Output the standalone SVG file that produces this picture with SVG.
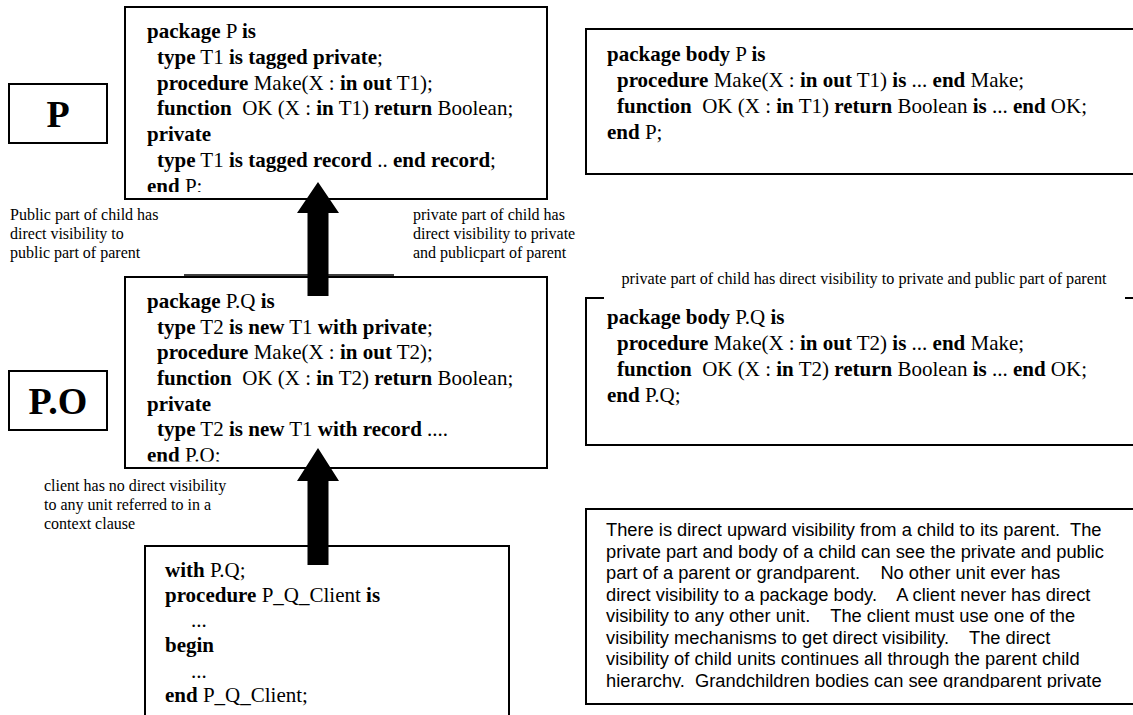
<svg xmlns="http://www.w3.org/2000/svg" width="1133" height="715" viewBox="0 0 1133 715">
<style>
.box{fill:#fff;stroke:#000;stroke-width:2}
.code{font-family:"Liberation Serif","Times New Roman",serif;font-size:21px;fill:#000}
.b{font-weight:bold}
.lbl{font-family:"Liberation Serif","Times New Roman",serif;font-size:16px;fill:#000}
.big{font-family:"Liberation Serif","Times New Roman",serif;font-size:38px;font-weight:bold;fill:#000}
.info{font-family:"Liberation Sans",Arial,sans-serif;font-size:18.3px;fill:#000}
.arrow{fill:#000}
</style>
<defs>
<clipPath id="cP"><rect x="125" y="8" width="422" height="184"/></clipPath>
<clipPath id="cPQ"><rect x="125" y="278" width="422" height="183.5"/></clipPath>
<clipPath id="cInfo"><rect x="586" y="510" width="547" height="178"/></clipPath>
</defs>
<rect width="1133" height="715" fill="#fff"/>

<g id="labelP">
<rect class="box" x="9" y="84" width="98" height="59"/>
<text class="big" x="58" y="127" text-anchor="middle">P</text>
</g>

<g id="labelPO">
<rect class="box" x="9" y="371" width="98" height="59"/>
<text class="big" x="58" y="414" text-anchor="middle">P.O</text>
</g>

<g id="specP">
<rect class="box" x="125" y="7" width="422" height="192"/>
<g clip-path="url(#cP)" class="code">
<text x="147" y="38"><tspan class="b">package</tspan> P <tspan class="b">is</tspan></text>
<text x="157" y="64"><tspan class="b">type</tspan> T1 <tspan class="b">is tagged private</tspan>;</text>
<text x="157" y="90"><tspan class="b">procedure</tspan> Make(X : <tspan class="b">in out</tspan> T1);</text>
<text x="157" y="115"><tspan class="b">function</tspan>&#160; OK (X : <tspan class="b">in</tspan> T1) <tspan class="b">return</tspan> Boolean;</text>
<text x="147" y="141"><tspan class="b">private</tspan></text>
<text x="157" y="167"><tspan class="b">type</tspan> T1 <tspan class="b">is tagged record</tspan> .. <tspan class="b">end record</tspan>;</text>
<text x="147" y="192.5"><tspan class="b">end</tspan> P;</text>
</g>
</g>

<g id="specPQ">
<rect class="box" x="125" y="277" width="422" height="191"/>
<line x1="184" y1="275" x2="394" y2="275" stroke="#000" stroke-width="1.5"/>
<g clip-path="url(#cPQ)" class="code">
<text x="147" y="308"><tspan class="b">package</tspan> P.Q <tspan class="b">is</tspan></text>
<text x="157" y="334"><tspan class="b">type</tspan> T2 <tspan class="b">is new</tspan> T1 <tspan class="b">with private</tspan>;</text>
<text x="157" y="359"><tspan class="b">procedure</tspan> Make(X : <tspan class="b">in out</tspan> T2);</text>
<text x="157" y="385"><tspan class="b">function</tspan>&#160; OK (X : <tspan class="b">in</tspan> T2) <tspan class="b">return</tspan> Boolean;</text>
<text x="147" y="411"><tspan class="b">private</tspan></text>
<text x="157" y="436"><tspan class="b">type</tspan> T2 <tspan class="b">is new</tspan> T1 <tspan class="b">with record</tspan> ....</text>
<text x="147" y="462"><tspan class="b">end</tspan> P.Q;</text>
</g>
</g>

<g id="bodyP">
<rect class="box" x="586" y="29" width="560" height="145"/>
<g class="code">
<text x="607" y="61"><tspan class="b">package body</tspan> P <tspan class="b">is</tspan></text>
<text x="617" y="87"><tspan class="b">procedure</tspan> Make(X : <tspan class="b">in out</tspan> T1) <tspan class="b">is</tspan> ... <tspan class="b">end</tspan> Make;</text>
<text x="617" y="113"><tspan class="b">function</tspan>&#160; OK (X : <tspan class="b">in</tspan> T1) <tspan class="b">return</tspan> Boolean <tspan class="b">is</tspan> ... <tspan class="b">end</tspan> OK;</text>
<text x="607" y="139"><tspan class="b">end</tspan> P;</text>
</g>
</g>

<g id="bodyPQ">
<rect class="box" x="586" y="298" width="560" height="147"/>
<g class="code">
<text x="607" y="324"><tspan class="b">package body</tspan> P.Q <tspan class="b">is</tspan></text>
<text x="617" y="350"><tspan class="b">procedure</tspan> Make(X : <tspan class="b">in out</tspan> T2) <tspan class="b">is</tspan> ... <tspan class="b">end</tspan> Make;</text>
<text x="617" y="376"><tspan class="b">function</tspan>&#160; OK (X : <tspan class="b">in</tspan> T2) <tspan class="b">return</tspan> Boolean <tspan class="b">is</tspan> ... <tspan class="b">end</tspan> OK;</text>
<text x="607" y="402"><tspan class="b">end</tspan> P.Q;</text>
</g>
</g>

<g id="client">
<rect class="box" x="145" y="546" width="364" height="190"/>
<g class="code">
<text x="165" y="577"><tspan class="b">with</tspan> P.Q;</text>
<text x="165" y="602"><tspan class="b">procedure</tspan> P_Q_Client <tspan class="b">is</tspan></text>
<text x="191" y="627">...</text>
<text x="165" y="652"><tspan class="b">begin</tspan></text>
<text x="191" y="678">...</text>
<text x="165" y="702"><tspan class="b">end</tspan> P_Q_Client;</text>
</g>
</g>

<g id="infoNote">
<rect class="box" x="586" y="509" width="560" height="195"/>
<g clip-path="url(#cInfo)" class="info">
<text x="606" y="536">There is direct upward visibility from a child to its parent.&#160; The</text>
<text x="606" y="558">private part and body of a child can see the private and public</text>
<text x="606" y="579">part of a parent or grandparent.&#160;&#160;&#160; No other unit ever has</text>
<text x="606" y="601">direct visibility to a package body.&#160;&#160;&#160; A client never has direct</text>
<text x="606" y="622">visibility to any other unit.&#160;&#160;&#160; The client must use one of the</text>
<text x="606" y="644">visibility mechanisms to get direct visibility.&#160;&#160;&#160; The direct</text>
<text x="606" y="665">visibility of child units continues all through the parent child</text>
<text x="606" y="687">hierarchy.&#160; Grandchildren bodies can see grandparent private</text>
</g>
</g>

<g id="connectors">
<polygon class="arrow" points="307.5,296 307.5,213 297,213 318,182 339,213 328.5,213 328.5,296"/>
<polygon class="arrow" points="307.5,565 307.5,481 297,481 318,448 339,481 328.5,481 328.5,565"/>
</g>

<g id="labels">
<text class="lbl" x="10" y="220">Public part of child has</text>
<text class="lbl" x="10" y="239">direct visibility to</text>
<text class="lbl" x="10" y="258">public part of parent</text>
<text class="lbl" x="413" y="220">private part of child has</text>
<text class="lbl" x="413" y="239">direct visibility to private</text>
<text class="lbl" x="413" y="258">and publicpart of parent</text>
<rect x="604" y="266" width="521" height="34" fill="#fff"/>
<text class="lbl" x="864" y="284" text-anchor="middle" style="font-size:16.2px">private part of child has direct visibility to private and public part of parent</text>
<text class="lbl" x="44" y="491">client has no direct visibility</text>
<text class="lbl" x="44" y="510">to any unit referred to in a</text>
<text class="lbl" x="44" y="529">context clause</text>
</g>
</svg>
